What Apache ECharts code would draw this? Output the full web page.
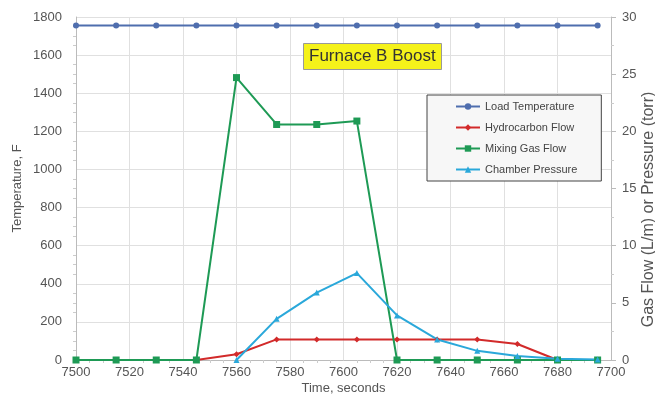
<!DOCTYPE html>
<html>
<head>
<meta charset="utf-8">
<title>Furnace B Boost</title>
<style>html,body{margin:0;padding:0;background:#fff}#chart{width:655px;height:398px}</style>
</head>
<body>
<div id="chart"></div>
<script src="https://cdn.jsdelivr.net/npm/echarts@6/dist/echarts.min.js"></script>
<script>
// time, seconds
const times = [7500, 7515, 7530, 7545, 7560, 7575, 7590, 7605, 7620, 7635, 7650, 7665, 7680, 7695];
// left axis, F
const loadTemp = [1755, 1755, 1755, 1755, 1755, 1755, 1755, 1755, 1755, 1755, 1755, 1755, 1755, 1755];
// right axis
const hydroFlow = [0, 0, 0, 0, 0.5, 1.8, 1.8, 1.8, 1.8, 1.8, 1.8, 1.4, 0, null];
const mixGasFlow = [0, 0, 0, 0, 24.7, 20.6, 20.6, 20.9, 0, 0, 0, 0, 0, 0];
const chamberPress = [null, null, null, null, 0, 3.6, 5.9, 7.6, 3.9, 1.8, 0.8, 0.35, 0.1, 0.05];

const names = ['Load Temperature', 'Hydrocarbon Flow', 'Mixing Gas Flow', 'Chamber Pressure'];
const colors = ['#4f6eae', '#d22a2a', '#1e9a55', '#2aa8da'];
const symbols = ['circle', 'diamond', 'rect', 'triangle'];

const pairs = arr => times.map((t, i) => [t, arr[i]]);
const plain = v => String(v);

const chart = echarts.init(document.getElementById('chart'));
const axisTxt = { color: '#555', fontSize: 13, fontFamily: 'Arial, Liberation Sans, sans-serif' };

chart.setOption({
  animation: false,
  backgroundColor: '#fff',
  color: colors,
  title: {
    text: 'Furnace B Boost',
    left: 303, top: 43,
    backgroundColor: '#f5f21a',
    borderColor: '#999',
    borderWidth: 1,
    padding: [5, 6],
    textStyle: { fontSize: 17, fontWeight: 'normal', color: '#333', fontFamily: 'Arial, Liberation Sans, sans-serif' }
  },
  legend: {
    data: names,
    orient: 'vertical',
    left: 427, top: 95,
    padding: [6, 24, 6, 28],
    itemGap: 10,
    itemWidth: 24, itemHeight: 8,
    backgroundColor: '#f7f7f7',
    borderColor: '#444',
    borderWidth: 1,
    textStyle: { fontSize: 11, color: '#444', fontFamily: 'Arial, Liberation Sans, sans-serif' }
  },
  grid: { left: 76, right: 44, top: 17, bottom: 38, outerBoundsMode: 'none', containLabel: false },
  xAxis: {
    type: 'value', min: 7500, max: 7700, interval: 20,
    name: 'Time, seconds', nameLocation: 'middle', nameGap: 22, nameMoveOverlap: false,
    nameTextStyle: axisTxt,
    axisLine: { lineStyle: { color: '#bbb' } },
    axisTick: { show: false },
    minorTick: { show: true, splitNumber: 4, lineStyle: { color: '#ccc' } },
    axisLabel: Object.assign({ margin: 6, formatter: plain }, axisTxt),
    splitLine: { lineStyle: { color: '#e0e0e0' } }
  },
  yAxis: [{
    type: 'value', min: 0, max: 1800, interval: 200,
    name: 'Temperature, F', nameLocation: 'middle', nameGap: 52, nameMoveOverlap: false,
    nameTextStyle: axisTxt,
    axisLine: { show: true, lineStyle: { color: '#bbb' } },
    axisTick: { show: false },
    minorTick: { show: true, splitNumber: 4, length: 3, lineStyle: { color: '#ccc' } },
    axisLabel: Object.assign({ margin: 14, formatter: plain }, axisTxt),
    splitLine: { lineStyle: { color: '#e0e0e0' } }
  }, {
    type: 'value', min: 0, max: 30, interval: 5,
    name: 'Gas Flow (L/m) or Pressure (torr)', nameLocation: 'middle', nameGap: 30, nameMoveOverlap: false,
    nameTextStyle: Object.assign({}, axisTxt, { fontSize: 16, padding: [0, 42, 0, 0] }),
    axisLine: { show: true, lineStyle: { color: '#bbb' } },
    axisTick: { show: true, lineStyle: { color: '#bbb' } },
    minorTick: { show: true, splitNumber: 2, lineStyle: { color: '#ccc' } },
    axisLabel: Object.assign({ margin: 11, formatter: plain }, axisTxt),
    splitLine: { show: false }
  }],
  series: [
    { name: names[0], type: 'line', yAxisIndex: 0, data: pairs(loadTemp) },
    { name: names[1], type: 'line', yAxisIndex: 1, data: pairs(hydroFlow) },
    { name: names[2], type: 'line', yAxisIndex: 1, data: pairs(mixGasFlow) },
    { name: names[3], type: 'line', yAxisIndex: 1, data: pairs(chamberPress) }
  ].map((s, i) => Object.assign(s, {
    symbol: symbols[i],
    symbolSize: i === 2 ? 7 : 6,
    lineStyle: { width: 2 },
    itemStyle: { color: colors[i] }
  }))
});
</script>
</body>
</html>
